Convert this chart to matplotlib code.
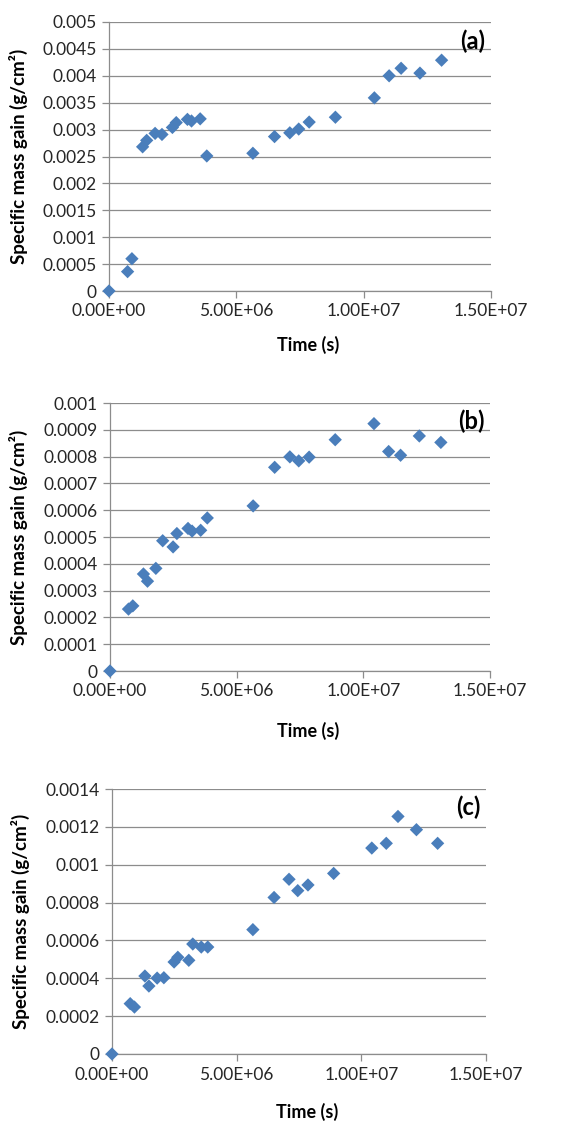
import matplotlib
matplotlib.use("Agg")
import matplotlib.pyplot as plt
from matplotlib.ticker import MultipleLocator, FuncFormatter

plt.rcParams['font.family'] = ['Lato', 'DejaVu Sans']

# Time (s)
time_s = [0, 0.73e6, 0.90e6, 1.32e6, 1.48e6, 1.81e6, 2.08e6, 2.49e6, 2.64e6,
          3.08e6, 3.24e6, 3.58e6, 3.84e6, 5.65e6, 6.50e6, 7.10e6, 7.45e6,
          7.86e6, 8.89e6, 10.42e6, 11.0e6, 11.47e6, 12.21e6, 13.06e6]

gain_a = [0, 0.00036, 0.00060, 0.00268, 0.00280, 0.00293, 0.00291, 0.00304, 0.00313,
          0.00319, 0.00316, 0.00320, 0.00251, 0.00256, 0.00287, 0.00294, 0.00301,
          0.00314, 0.00323, 0.00359, 0.00400, 0.00414, 0.00405, 0.00429]

gain_b = [0, 0.000231, 0.000243, 0.000362, 0.000335, 0.000383, 0.000486, 0.000463, 0.000513,
          0.000532, 0.000522, 0.000525, 0.000571, 0.000616, 0.000760, 0.000799, 0.000784,
          0.000798, 0.000863, 0.000923, 0.000819, 0.000805, 0.000877, 0.000853]

gain_c = [0, 0.000266, 0.000248, 0.000412, 0.000359, 0.000401, 0.000403, 0.000486, 0.000511,
          0.000495, 0.000581, 0.000565, 0.000565, 0.000657, 0.000827, 0.000923, 0.000863,
          0.000893, 0.000954, 0.001088, 0.001113, 0.001255, 0.001185, 0.001113]

panels = [
    ("(a)", gain_a, 0.005, 0.0005),
    ("(b)", gain_b, 0.001, 0.0001),
    ("(c)", gain_c, 0.0014, 0.0002),
]

W, H = 581, 1124
fig = plt.figure(figsize=(W / 100, H / 100), dpi=100)

# axes boxes in pixels: left, right, top, bottom
boxes = [(109, 491, 22, 291), (110, 490, 403, 671), (112, 486, 789, 1054)]
xlabel_y = [345, 731, 1112]
ylabel_x = [28, 28, 30]

blue = '#4A7EBB'
grid_c = '#8C8C8C'

for (lab, g, ymax, ystep), (l, r, t, b), xly, ylx in zip(panels, boxes, xlabel_y, ylabel_x):
    ax = fig.add_axes([l / W, 1 - b / H, (r - l) / W, (b - t) / H])
    ax.scatter(time_s, g, marker='D', s=46, color=blue, edgecolors='none', zorder=3, clip_on=False)
    ax.set_xlim(0, 1.5e7)
    ax.set_ylim(0, ymax)
    ax.xaxis.set_major_locator(MultipleLocator(5e6))
    ax.yaxis.set_major_locator(MultipleLocator(ystep))
    ax.xaxis.set_major_formatter(FuncFormatter(lambda v, p: '{:.2E}'.format(v)))
    ax.yaxis.set_major_formatter(FuncFormatter(lambda v, p: '0' if abs(v) < 1e-12 else '{:g}'.format(round(v, 6))))
    ax.grid(axis='y', color=grid_c, linewidth=0.9)
    ax.set_axisbelow(True)
    for s in ('top', 'right'):
        ax.spines[s].set_visible(False)
    for s in ('left', 'bottom'):
        ax.spines[s].set_color(grid_c)
        ax.spines[s].set_linewidth(0.9)
    ax.tick_params(axis='both', direction='out', length=5, width=0.9, color=grid_c,
                   labelsize=12.5, labelcolor='#262626', pad=4)
    ax.set_ylabel('Specific mass gain (g/cm²)', fontsize=13.5, fontweight='bold')
    ax.yaxis.set_label_coords((ylx - l) / (r - l), 0.5)
    ax.text(0.985, 0.93, lab, transform=ax.transAxes, ha='right', va='center',
            fontsize=17, fontweight='bold')
    fig.text(((l + r) / 2 + 8) / W, 1 - xly / H, 'Time (s)', ha='center', va='center',
             fontsize=13, fontweight='bold')

fig.savefig('out.png', dpi=100, facecolor='white')
